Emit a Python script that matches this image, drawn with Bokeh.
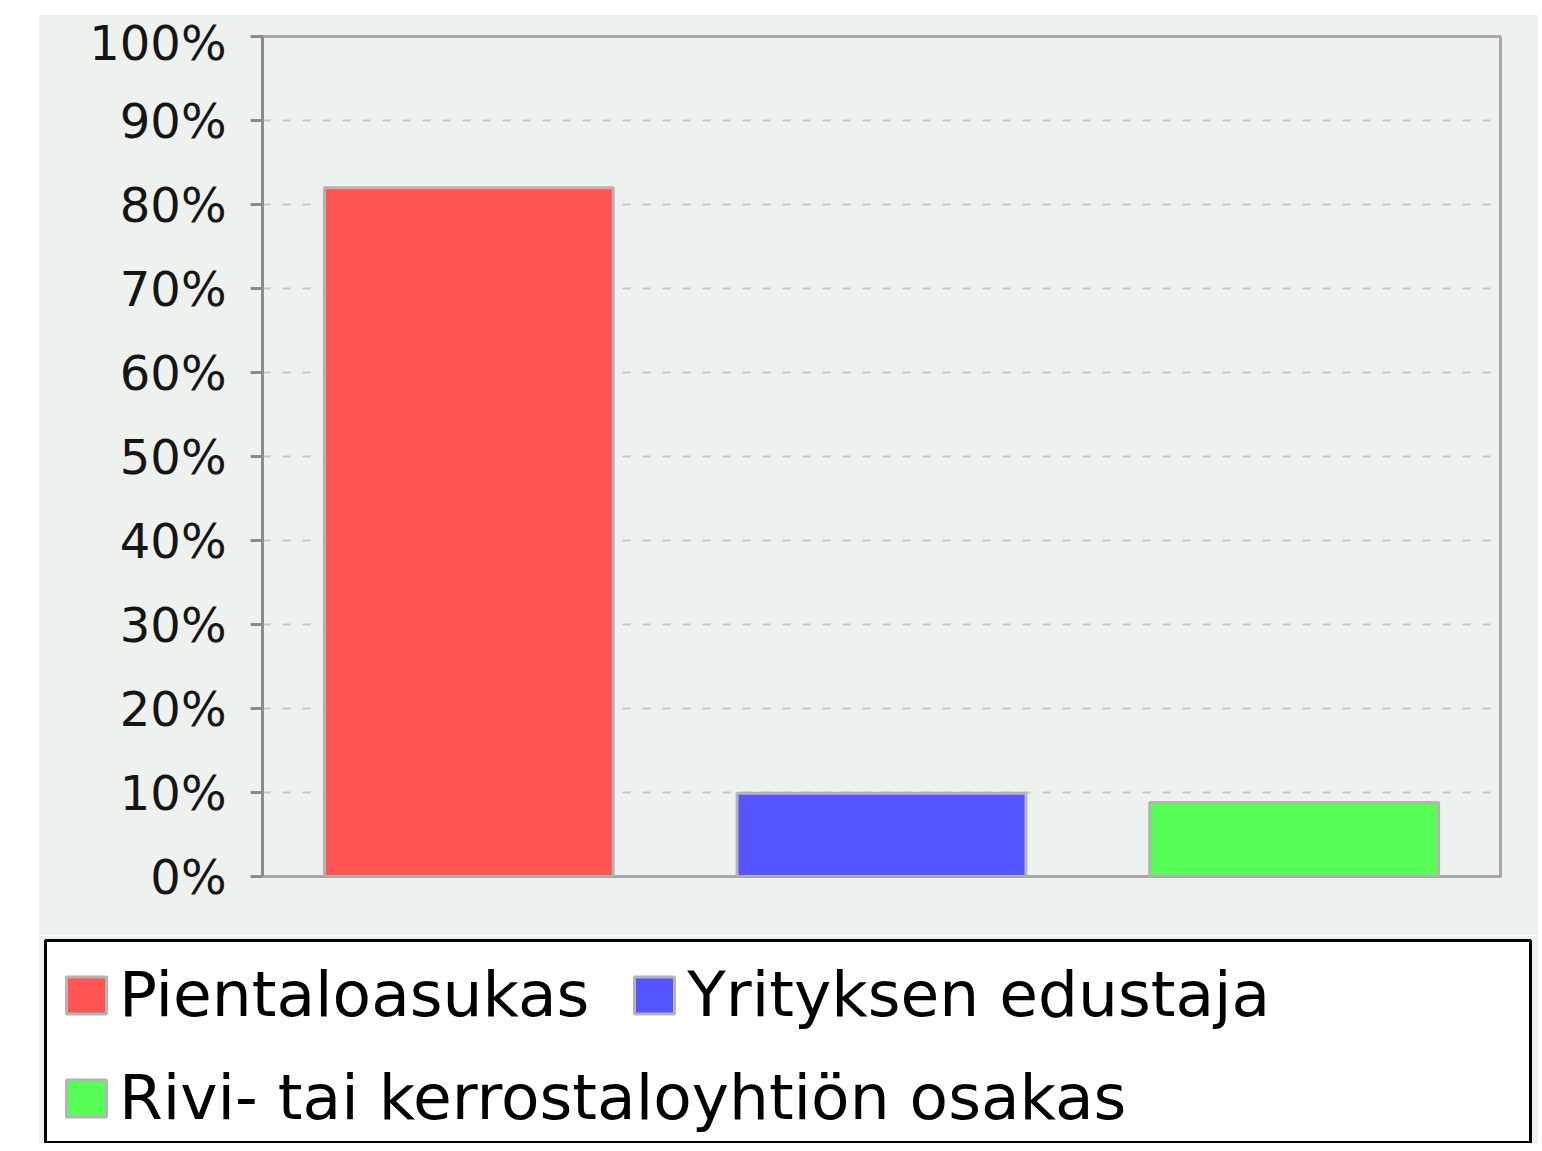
from bokeh.plotting import figure
from bokeh.models import (ColumnDataSource, FactorRange, Range1d, Legend, LegendItem,
                          SingleIntervalTicker, PrintfTickFormatter)
from bokeh.embed import file_html
from bokeh.resources import INLINE

# ---- data ----
categories = ["Pientaloasukas", "Yrityksen edustaja", "Rivi- tai kerrostaloyhtiön osakas"]
values = [82.0, 9.9, 8.8]          # percent
colors = ["#FF5555", "#5555FF", "#55FF55"]
tick_interval = 10

BG = "#EEF2EE"
FONT = "DejaVu Sans"

src = ColumnDataSource(dict(cat=categories, val=values, color=colors))

p = figure(width=1500, height=921,
           x_range=FactorRange(factors=categories, range_padding=0),
           y_range=Range1d(0, 100),
           output_backend="svg", toolbar_location=None, x_axis_location=None,
           min_border_left=224, min_border_right=38, min_border_top=22, min_border_bottom=59,
           background_fill_color=BG, border_fill_color=BG,
           outline_line_color="#A8A8A8", outline_line_width=3,
           margin=(14, 0, 0, 38))

p.vbar(x="cat", top="val", bottom=0, width=0.7, source=src,
       fill_color="color", line_color="#B4B4B4", line_width=3)

ax = p.yaxis[0]
ax.ticker = SingleIntervalTicker(interval=tick_interval, num_minor_ticks=0)
ax.formatter = PrintfTickFormatter(format="%d%%")
ax.major_label_text_font = FONT
ax.major_label_text_font_size = "48px"
ax.major_label_text_color = "#151515"
ax.axis_line_color = "#8C8C8C"
ax.axis_line_width = 3
ax.major_tick_line_color = "#8C8C8C"
ax.major_tick_line_width = 3
ax.major_tick_out = 12
ax.major_tick_in = 0
ax.minor_tick_line_color = None
ax.major_label_standoff = 24

p.xgrid.grid_line_color = None
p.ygrid.grid_line_color = "#C8C8C8"
p.ygrid.grid_line_width = 2
p.ygrid.grid_line_dash = "8 12"

# ---- legend panel ----
p2 = figure(width=1500, height=208,
            x_range=FactorRange(factors=categories), y_range=Range1d(0, 100),
            output_backend="svg", toolbar_location=None,
            x_axis_location=None, y_axis_location=None,
            min_border_left=7, min_border_right=8, min_border_top=5, min_border_bottom=0,
            background_fill_color="white", border_fill_color=BG,
            outline_line_color="black", outline_line_width=3,
            margin=(0, 0, 0, 38))
p2.grid.visible = False

rs = []
for i in range(len(categories)):
    s = ColumnDataSource(dict(cat=[categories[i]], val=[values[i]]))
    r = p2.vbar(x="cat", top="val", width=0.7, source=s,
                fill_color=colors[i], line_color="#B4B4B4", line_width=3)
    r.visible = False
    rs.append(r)

common = dict(label_text_font=FONT, label_text_font_size="63px", label_text_color="black",
              glyph_width=50, glyph_height=46, label_standoff=8, spacing=40,
              padding=0, margin=0, background_fill_alpha=0, border_line_alpha=0)

leg1 = Legend(items=[LegendItem(label=categories[0], renderers=[rs[0]]),
                     LegendItem(label=categories[1], renderers=[rs[1]])],
              orientation="horizontal", location=(16, 112), **common)
leg2 = Legend(items=[LegendItem(label=categories[2], renderers=[rs[2]])],
              orientation="horizontal", location=(16, 9), **common)
p2.add_layout(leg1)
p2.add_layout(leg2)

open("out.html", "w").write(file_html([p, p2], INLINE))
